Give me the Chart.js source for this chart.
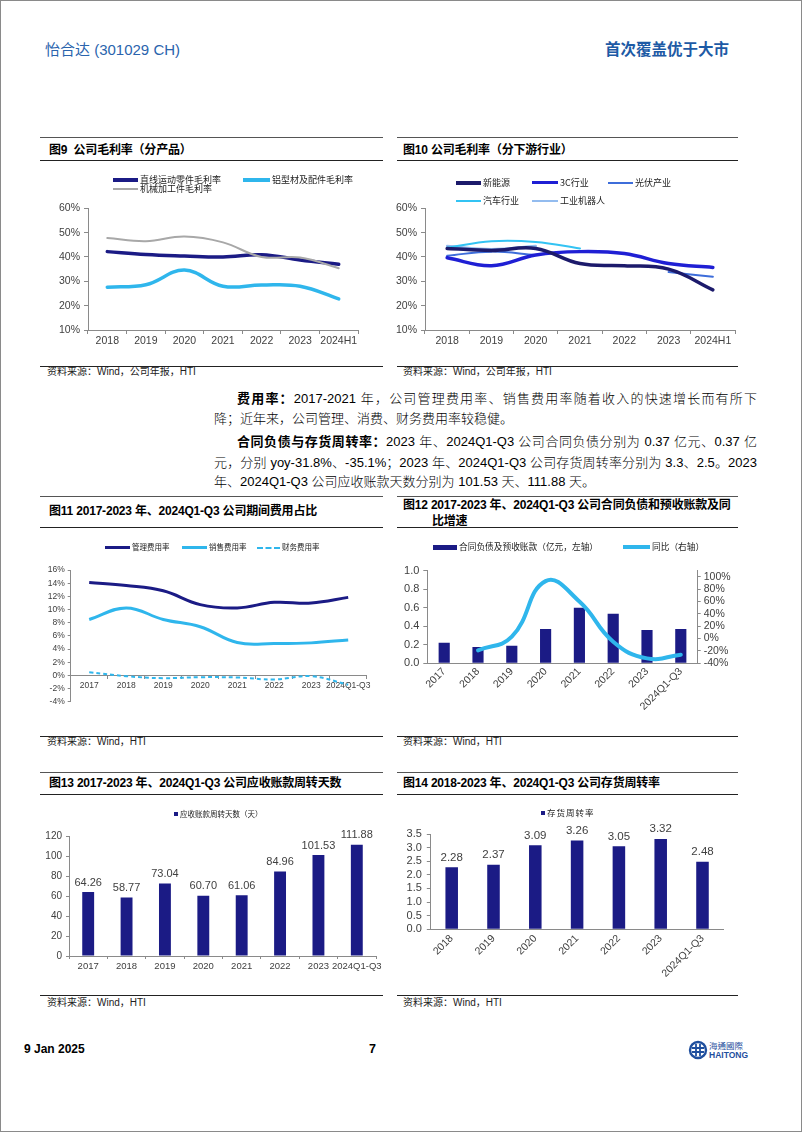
<!DOCTYPE html>
<html>
<head>
<meta charset="utf-8">
<script src="https://cdn.jsdelivr.net/npm/chart.js@4.4.1/dist/chart.umd.min.js"></script>
<style>
html, body { margin: 0; padding: 0; background: #fff; }
#page { position: relative; width: 802px; height: 1132px; overflow: hidden; background: #fff;
        font-family: 'Liberation Sans', 'Noto Sans CJK SC', sans-serif; color: #000; }
#frame { position: absolute; left: 0; top: 0; width: 800px; height: 1130px; border: 1px solid #8a8a8a; pointer-events: none; }
.abs { position: absolute; white-space: nowrap; }
.rule { position: absolute; height: 0; }
.title { position: absolute; white-space: nowrap; font-weight: 700; font-size: 12px; line-height: 16px; letter-spacing: -0.2px; }
.src { position: absolute; white-space: nowrap; font-size: 10px; line-height: 12px; color: #222; }
.body { position: absolute; white-space: nowrap; font-size: 13px; line-height: 20px; font-weight: 300; }
.body b { font-weight: 700; }
.just { text-align: justify; text-align-last: justify; }
.leg { position: absolute; white-space: nowrap; font-family: 'Noto Sans CJK SC', sans-serif; color: #222; }
canvas { position: absolute; }
</style>
</head>
<body>
<div id="page">
  <div class="abs" style="left:45px;top:38px;font-size:15px;color:#2a64ad;">怡合达 (301029 CH)</div>
  <div class="abs" style="left:605px;top:37px;font-size:15.5px;font-weight:700;color:#1d5aa5;font-family:'Noto Sans CJK SC',sans-serif;">首次覆盖优于大市</div>

  <!-- rules -->
  <div class="rule" style="left:40px;top:137px;width:343px;border-top:1px solid #555;"></div>
  <div class="rule" style="left:397px;top:137px;width:341px;border-top:1px solid #555;"></div>
  <div class="rule" style="left:40px;top:160px;width:343px;border-top:1.5px solid #222;"></div>
  <div class="rule" style="left:397px;top:160px;width:341px;border-top:1.5px solid #222;"></div>
  <div class="rule" style="left:40px;top:365.5px;width:343px;border-top:1.5px solid #222;"></div>
  <div class="rule" style="left:397px;top:365.5px;width:341px;border-top:1.5px solid #222;"></div>

  <div class="rule" style="left:40px;top:496px;width:343px;border-top:1px solid #555;"></div>
  <div class="rule" style="left:397px;top:496px;width:341px;border-top:1px solid #555;"></div>
  <div class="rule" style="left:40px;top:526.5px;width:343px;border-top:1.5px solid #222;"></div>
  <div class="rule" style="left:397px;top:526.5px;width:341px;border-top:1.5px solid #222;"></div>
  <div class="rule" style="left:40px;top:735.5px;width:343px;border-top:1.5px solid #222;"></div>
  <div class="rule" style="left:397px;top:735.5px;width:341px;border-top:1.5px solid #222;"></div>

  <div class="rule" style="left:40px;top:771.5px;width:343px;border-top:1px solid #555;"></div>
  <div class="rule" style="left:397px;top:771.5px;width:341px;border-top:1px solid #555;"></div>
  <div class="rule" style="left:40px;top:794px;width:343px;border-top:1.5px solid #222;"></div>
  <div class="rule" style="left:397px;top:794px;width:341px;border-top:1.5px solid #222;"></div>
  <div class="rule" style="left:40px;top:994.5px;width:343px;border-top:1.5px solid #222;"></div>
  <div class="rule" style="left:397px;top:994.5px;width:341px;border-top:1.5px solid #222;"></div>

  <!-- titles -->
  <div class="title" style="left:49px;top:142px;">图9&nbsp;&nbsp;公司毛利率（分产品）</div>
  <div class="title" style="left:403px;top:142px;">图10 公司毛利率（分下游行业）</div>
  <div class="title" style="left:49px;top:503px;">图11 2017-2023 年、2024Q1-Q3 公司期间费用占比</div>
  <div class="title" style="left:403px;top:497px;">图12 2017-2023 年、2024Q1-Q3 公司合同负债和预收账款及同</div>
  <div class="title" style="left:432px;top:513px;">比增速</div>
  <div class="title" style="left:49px;top:775px;">图13 2017-2023 年、2024Q1-Q3 公司应收账款周转天数</div>
  <div class="title" style="left:403px;top:775px;">图14 2018-2023 年、2024Q1-Q3 公司存货周转率</div>

  <!-- sources -->
  <div class="src" style="left:47px;top:366px;">资料来源：Wind，公司年报，HTI</div>
  <div class="src" style="left:403px;top:366px;">资料来源：Wind，公司年报，HTI</div>
  <div class="src" style="left:47px;top:736px;">资料来源：Wind，HTI</div>
  <div class="src" style="left:403px;top:736px;">资料来源：Wind，HTI</div>
  <div class="src" style="left:47px;top:997px;">资料来源：Wind，HTI</div>
  <div class="src" style="left:403px;top:997px;">资料来源：Wind，HTI</div>

  <!-- body text -->
  <div class="body just" style="left:237px;top:389px;width:520px;"><b>费用率：</b>2017-2021 年，公司管理费用率、销售费用率随着收入的快速增长而有所下</div>
  <div class="body" style="left:214px;top:409px;">降；近年来，公司管理、消费、财务费用率较稳健。</div>
  <div class="body just" style="left:237px;top:432px;width:520px;"><b>合同负债与存货周转率：</b>2023 年、2024Q1-Q3 公司合同负债分别为 0.37 亿元、0.37 亿</div>
  <div class="body just" style="left:214px;top:453px;width:543px;">元，分别 yoy-31.8%、-35.1%；2023 年、2024Q1-Q3 公司存货周转率分别为 3.3、2.5。2023</div>
  <div class="body" style="left:214px;top:472px;">年、2024Q1-Q3 公司应收账款天数分别为 101.53 天、111.88 天。</div>

  <!-- charts -->
  <canvas id="c9" width="335" height="152" style="left:40px;top:198px;"></canvas>
  <canvas id="c10" width="350" height="152" style="left:395px;top:198px;"></canvas>
  <canvas id="c11" width="335" height="150" style="left:40px;top:560px;"></canvas>
  <canvas id="c12" width="350" height="160" style="left:395px;top:560px;"></canvas>
  <canvas id="c13" width="345" height="155" style="left:40px;top:825px;"></canvas>
  <canvas id="c14" width="345" height="160" style="left:395px;top:822px;"></canvas>

  <!-- footer -->
  <div class="abs" style="left:24px;top:1042px;font-size:12px;font-weight:700;">9 Jan 2025</div>
  <div class="abs" style="left:369px;top:1042px;font-size:12.5px;font-weight:700;">7</div>
  <svg class="abs" style="left:688px;top:1040px;" width="20" height="20" viewBox="0 0 20 20">
    <circle cx="10" cy="10" r="8" fill="none" stroke="#1f4f9e" stroke-width="2.4"/>
    <path d="M4 8 H16 M4 12 H16 M8 4 V16 M12 4 V16" stroke="#1f4f9e" stroke-width="1.8" fill="none"/>
  </svg>
  <div class="abs" style="left:709px;top:1040px;font-size:8.5px;line-height:10px;color:#1f4f9e;font-family:'Noto Sans CJK TC',sans-serif;">海通國際</div>
  <div class="abs" style="left:709px;top:1050px;font-size:8.5px;line-height:10px;color:#1f4f9e;font-weight:700;">HAITONG</div>

  <div id="frame"></div>
</div>

<script>
// ---- data ----
const years9 = ['2018', '2019', '2020', '2021', '2022', '2023', '2024H1'];
const linearParts = [42.2, 41.0, 40.4, 40.0, 40.9, 38.8, 37.0];
const aluminium = [27.6, 28.6, 34.6, 28.0, 28.5, 28.0, 22.8];
const machined = [47.8, 46.5, 48.4, 46.0, 40.0, 39.8, 35.4];

const newEnergy = [43.5, 42.7, 43.5, 37.3, 36.4, 35.0, 26.5];
const industry3C = [39.7, 36.4, 40.8, 42.2, 41.4, 37.3, 35.7];
const photovoltaic = [40.5, 42.2, 40.8, null, null, 33.8, 31.9];
const automotive = [43.8, 46.5, 46.2, 43.5, null, null, null];
const robotics = [44.5, 43.2, 44.5, null, null, null, null];

const years17 = ['2017', '2018', '2019', '2020', '2021', '2022', '2023', '2024Q1-Q3'];
const adminRate = [14.1, 13.65, 12.85, 10.75, 10.25, 11.1, 11.0, 11.85];
const salesRate = [8.5, 10.25, 8.5, 7.4, 5.0, 4.85, 4.95, 5.4];
const financeRate = [0.5, -0.1, -0.4, -0.25, -0.3, -0.6, -0.1, -1.4];

const contractLiab = [0.223, 0.177, 0.19, 0.37, 0.60, 0.535, 0.36, 0.37];
const contractYoy = [null, -19, 3, 93, 60, -5, -32, -26];

const receivableDays = [64.26, 58.77, 73.04, 60.70, 61.06, 84.96, 101.53, 111.88];

const years18 = ['2018', '2019', '2020', '2021', '2022', '2023', '2024Q1-Q3'];
const inventoryTurnover = [2.28, 2.37, 3.09, 3.26, 3.05, 3.32, 2.48];

// ---- styles ----
const NAVY = '#1b1b85';
const CYAN = '#2fb6ec';
const GRAY = '#a8a8a8';
const AXIS = '#8a8a8a';
const TICK = '#404040';
const ARIAL = "'Liberation Sans', Arial, sans-serif";

Chart.defaults.animation = false;
Chart.defaults.color = TICK;
Chart.defaults.font.family = ARIAL;
Chart.defaults.plugins.legend.display = false;
Chart.defaults.plugins.tooltip.enabled = false;

const page = document.getElementById('page');

function legendItem(x, y, kind, color, thick, len, text, size, extra) {
    const mark = document.createElement('div');
    mark.className = 'abs';
    if (kind === 'line') {
        mark.style.cssText = `left:${x}px;top:${y - thick / 2}px;width:${len}px;height:0;border-top:${thick}px solid ${color};`;
    } else if (kind === 'dash') {
        mark.style.cssText = `left:${x}px;top:${y - thick / 2}px;width:${len}px;height:0;border-top:${thick}px dashed ${color};`;
    } else {
        mark.style.cssText = `left:${x}px;top:${y - thick / 2}px;width:${len}px;height:${thick}px;background:${color};`;
    }
    page.appendChild(mark);
    const lab = document.createElement('div');
    lab.className = 'leg';
    lab.textContent = text;
    lab.style.cssText = `left:${x + len + 2}px;top:${y - size * 0.7}px;font-size:${size}px;line-height:${size * 1.4}px;` + (extra || '');
    page.appendChild(lab);
}

// simple value labels above bars
const valueLabels = {
    id: 'valueLabels',
    afterDatasetsDraw(chart, args, opts) {
        if (!opts || !opts.show) return;
        const ctx = chart.ctx;
        chart.data.datasets.forEach((ds, i) => {
            const meta = chart.getDatasetMeta(i);
            if (meta.type !== 'bar') return;
            meta.data.forEach((bar, j) => {
                ctx.save();
                ctx.font = opts.size + 'px ' + ARIAL;
                ctx.fillStyle = TICK;
                ctx.textAlign = 'center';
                ctx.textBaseline = 'bottom';
                ctx.fillText(ds.data[j].toFixed(opts.decimals), bar.x, bar.y - opts.gap);
                ctx.restore();
            });
        });
    }
};

function catX(height, opts) {
    return Object.assign({
        offset: true,
        border: { color: AXIS },
        grid: { offset: true, drawOnChartArea: false, drawTicks: true, tickLength: 4, color: AXIS },
        ticks: { font: { size: 10.5 }, color: TICK, padding: 1, autoSkip: false, maxRotation: 0 },
        afterFit: s => { s.height = height; }
    }, opts || {});
}

function valY(min, max, step, width, fmt, size, tickLen, pad) {
    return {
        min: min, max: max,
        border: { color: AXIS },
        grid: { drawOnChartArea: false, drawTicks: true, tickLength: tickLen || 4, color: AXIS },
        ticks: { stepSize: step, autoSkip: false, font: { size: size }, color: TICK, padding: pad || 4, callback: fmt },
        afterFit: s => { s.width = width; }
    };
}

const pct = v => v + '%';

// ---- 图9 ----
legendItem(113, 180, 'line', NAVY, 4, 25, '直线运动零件毛利率', 9);
legendItem(243, 180, 'line', CYAN, 4, 27, '铝型材及配件毛利率', 9);
legendItem(113, 189, 'line', GRAY, 2, 25, '机械加工件毛利率', 9);

new Chart(document.getElementById('c9'), {
    type: 'line',
    data: {
        labels: years9,
        datasets: [
            { label: '机械加工件毛利率', data: machined, borderColor: GRAY, borderWidth: 2 },
            { label: '直线运动零件毛利率', data: linearParts, borderColor: NAVY, borderWidth: 3.5 },
            { label: '铝型材及配件毛利率', data: aluminium, borderColor: CYAN, borderWidth: 3.5 }
        ]
    },
    options: {
        responsive: false,
        layout: { padding: { top: 8.7, right: 17, left: 0, bottom: 0 } },
        elements: { point: { radius: 0 }, line: { tension: 0.4, fill: false, borderCapStyle: 'round' } },
        scales: {
            x: catX(20),
            y: valY(10, 60, 10, 48, pct, 10.5)
        }
    }
});

// ---- 图10 ----
legendItem(456, 183, 'line', '#1c1a6b', 4, 25, '新能源', 9);
legendItem(532, 183, 'line', '#1f1fd4', 3.5, 26, '3C行业', 9);
legendItem(608, 183, 'line', '#3d6dda', 2, 25, '光伏产业', 9);
legendItem(456, 201, 'line', '#33c3f3', 2, 25, '汽车行业', 9);
legendItem(532, 201, 'line', '#93bcef', 2, 26, '工业机器人', 9);

new Chart(document.getElementById('c10'), {
    type: 'line',
    data: {
        labels: years9,
        datasets: [
            { label: '新能源', data: newEnergy, borderColor: '#1c1a6b', borderWidth: 3.5 },
            { label: '3C行业', data: industry3C, borderColor: '#1f1fd4', borderWidth: 3.5 },
            { label: '汽车行业', data: automotive, borderColor: '#33c3f3', borderWidth: 2 },
            { label: '光伏产业', data: photovoltaic, borderColor: '#3d6dda', borderWidth: 2 },
            { label: '工业机器人', data: robotics, borderColor: '#93bcef', borderWidth: 2.5 }
        ]
    },
    options: {
        responsive: false,
        layout: { padding: { top: 8.7, right: 10, left: 0, bottom: 0 } },
        elements: { point: { radius: 0 }, line: { tension: 0.4, fill: false, borderCapStyle: 'round' } },
        scales: {
            x: catX(20),
            y: valY(10, 60, 10, 30, pct, 10.5)
        }
    }
});

// ---- 图11 ----
legendItem(105, 547.7, 'line', NAVY, 3, 25, '管理费用率', 7.5);
legendItem(182, 547.7, 'line', CYAN, 3, 25, '销售费用率', 7.5);
legendItem(257, 547.7, 'dash', CYAN, 2, 23, '财务费用率', 7.5);

new Chart(document.getElementById('c11'), {
    type: 'line',
    data: {
        labels: years17,
        datasets: [
            { label: '管理费用率', data: adminRate, borderColor: NAVY, borderWidth: 3 },
            { label: '销售费用率', data: salesRate, borderColor: CYAN, borderWidth: 3 },
            { label: '财务费用率', data: financeRate, borderColor: CYAN, borderWidth: 2, borderDash: [4, 3] }
        ]
    },
    options: {
        responsive: false,
        layout: { padding: { top: 10, right: 8.3, left: 0, bottom: 7 } },
        elements: { point: { radius: 0 }, line: { tension: 0.4, fill: false } },
        scales: {
            x: catX(18, {
                position: { y: 0 },
                grid: { offset: true, drawOnChartArea: false, drawTicks: true, tickLength: 3, color: AXIS },
                ticks: { font: { size: 8.5 }, color: TICK, padding: 2, autoSkip: false, maxRotation: 0 }
            }),
            y: valY(-4, 16, 2, 30.7, pct, 8.5, 3, 3)
        }
    }
});

// ---- 图12 ----
legendItem(433, 547, 'box', NAVY, 5, 24, '合同负债及预收账款（亿元，左轴）', 8.7);
legendItem(623, 547, 'line', CYAN, 4, 27, '同比（右轴）', 8.7);

const yoyAxis = valY(-40, 110, 20, 47.3, pct, 10.5, 3, 3);
yoyAxis.position = 'right';
yoyAxis.ticks.includeBounds = false;
yoyAxis.afterBuildTicks = s => { s.ticks = s.ticks.filter(t => t.value <= 100); };

new Chart(document.getElementById('c12'), {
    type: 'bar',
    data: {
        labels: years17,
        datasets: [
            { type: 'line', label: '同比（右轴）', data: contractYoy, yAxisID: 'y1', borderColor: CYAN, borderWidth: 4,
              tension: 0.45, pointRadius: 0, fill: false, borderCapStyle: 'round' },
            { type: 'bar', label: '合同负债及预收账款（亿元，左轴）', data: contractLiab, yAxisID: 'y',
              backgroundColor: NAVY, barPercentage: 0.33, categoryPercentage: 1 }
        ]
    },
    options: {
        responsive: false,
        layout: { padding: { top: 9.3, right: 0, left: 0, bottom: 0 } },
        scales: {
            x: catX(56.7, {
                grid: { offset: true, drawOnChartArea: false, drawTicks: false, color: AXIS },
                ticks: { font: { size: 10.5 }, color: TICK, padding: 2, autoSkip: false, minRotation: 45, maxRotation: 45 }
            }),
            y: valY(0, 1, 0.2, 32.3, v => v.toFixed(1), 11),
            y1: yoyAxis
        }
    }
});

// ---- 图13 ----
legendItem(174, 814, 'box', NAVY, 4, 4, '应收账款周转天数（天）', 7.5);

new Chart(document.getElementById('c13'), {
    type: 'bar',
    data: {
        labels: years17,
        datasets: [
            { label: '应收账款周转天数（天）', data: receivableDays, backgroundColor: NAVY, barPercentage: 0.31, categoryPercentage: 1 }
        ]
    },
    plugins: [valueLabels],
    options: {
        responsive: false,
        layout: { padding: { top: 11.7, right: 9, left: 0, bottom: 0 } },
        plugins: { valueLabels: { show: true, size: 11, decimals: 2, gap: 4 } },
        scales: {
            x: catX(24, {
                grid: { offset: true, drawOnChartArea: false, drawTicks: true, tickLength: 3, color: AXIS },
                ticks: { font: { size: 9.5 }, color: TICK, padding: 2, autoSkip: false, maxRotation: 0 }
            }),
            y: valY(0, 120, 20, 29, v => v, 10, 3, 4)
        }
    }
});

// ---- 图14 ----
legendItem(541, 812.7, 'box', NAVY, 4, 4, '存货周转率', 8.5, 'letter-spacing:1px;');

new Chart(document.getElementById('c14'), {
    type: 'bar',
    data: {
        labels: years18,
        datasets: [
            { label: '存货周转率', data: inventoryTurnover, backgroundColor: NAVY, barPercentage: 0.30, categoryPercentage: 1 }
        ]
    },
    plugins: [valueLabels],
    options: {
        responsive: false,
        layout: { padding: { top: 12, right: 16.6, left: 0, bottom: 0 } },
        plugins: { valueLabels: { show: true, size: 11.5, decimals: 2, gap: 4 } },
        scales: {
            x: catX(52.7, {
                grid: { offset: true, drawOnChartArea: false, drawTicks: false, color: AXIS },
                ticks: { font: { size: 10.5 }, color: TICK, padding: 3, autoSkip: false, minRotation: 45, maxRotation: 45 }
            }),
            y: valY(0, 3.5, 0.5, 35.8, v => v.toFixed(1), 11, 4, 5)
        }
    }
});
</script>
</body>
</html>
